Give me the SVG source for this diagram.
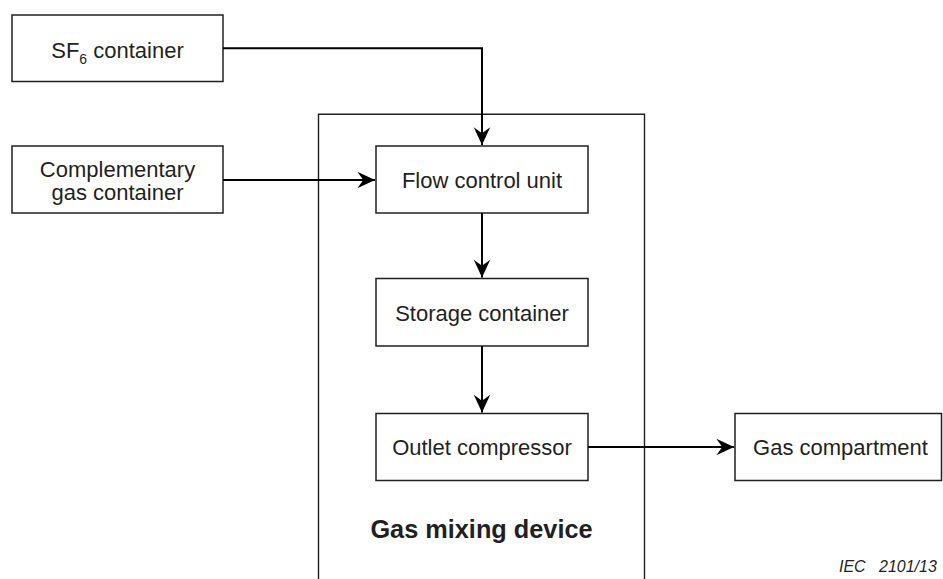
<svg xmlns="http://www.w3.org/2000/svg" width="943" height="579" viewBox="0 0 943 579">
  <style>
    .box { fill: #ffffff; stroke: #231f20; stroke-width: 1.5; }
    .frame { fill: none; stroke: #231f20; stroke-width: 1.4; }
    .lbl { font-family: "Liberation Sans", Arial, sans-serif; font-size: 22px; fill: #231f20; text-anchor: middle; }
    .title { font-family: "Liberation Sans", Arial, sans-serif; font-size: 25.3px; font-weight: bold; fill: #231f20; text-anchor: middle; }
    .ref { font-family: "Liberation Sans", Arial, sans-serif; font-size: 16px; font-style: italic; fill: #231f20; }
    .wire { fill: none; stroke: #000000; stroke-width: 2; }
  </style>
  <defs>
    <marker id="arrow" markerUnits="userSpaceOnUse" markerWidth="20" markerHeight="20" viewBox="-16 -8 17 16" refX="0" refY="0" orient="auto">
      <path d="M0,0 L-15,-7 L-10,0 L-15,7 Z" fill="#000000"/>
    </marker>
  </defs>

  <rect width="943" height="579" fill="#ffffff"/>

  <!-- Gas mixing device enclosure (open at the bottom edge) -->
  <g id="gas-mixing-device">
    <path class="frame" d="M318.5,590 V114.3 H644.5 V590"/>
    <text class="title" x="481.5" y="538">Gas mixing device</text>
  </g>

  <g id="sf6-container">
    <rect class="box" x="12" y="15" width="211" height="66.5"/>
    <text class="lbl" x="117.5" y="57.5">SF<tspan font-size="14" dy="6">6</tspan><tspan dy="-6"> container</tspan></text>
  </g>

  <g id="complementary-gas-container">
    <rect class="box" x="12" y="146" width="211" height="67"/>
    <text class="lbl" x="117.5" y="176.5">Complementary</text>
    <text class="lbl" x="117.5" y="200">gas container</text>
  </g>

  <g id="flow-control-unit">
    <rect class="box" x="376" y="146" width="212" height="67"/>
    <text class="lbl" x="482" y="188">Flow control unit</text>
  </g>

  <g id="storage-container">
    <rect class="box" x="376" y="278.5" width="212" height="67.5"/>
    <text class="lbl" x="482" y="320.5">Storage container</text>
  </g>

  <g id="outlet-compressor">
    <rect class="box" x="376" y="413.5" width="212" height="67"/>
    <text class="lbl" x="482" y="455">Outlet compressor</text>
  </g>

  <g id="gas-compartment">
    <rect class="box" x="735" y="413.5" width="206.5" height="67"/>
    <text class="lbl" x="840.5" y="455">Gas compartment</text>
  </g>

  <g id="connectors">
    <path class="wire" d="M223,48.3 H482 V145" marker-end="url(#arrow)"/>
    <path class="wire" d="M223,180 H375" marker-end="url(#arrow)"/>
    <path class="wire" d="M482,213 V277.5" marker-end="url(#arrow)"/>
    <path class="wire" d="M482,346 V412.5" marker-end="url(#arrow)"/>
    <path class="wire" d="M588,447 H734" marker-end="url(#arrow)"/>
  </g>

  <text class="ref" x="839" y="572">IEC</text>
  <text class="ref" x="879" y="572">2101/13</text>
</svg>
